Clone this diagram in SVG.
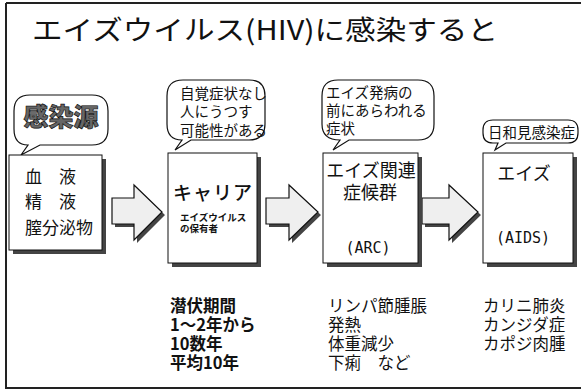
<svg xmlns="http://www.w3.org/2000/svg" width="581" height="391" viewBox="0 0 581 391">
<style>
.jp{font-family:"Noto Sans CJK JP","Noto Sans CJK SC",sans-serif;fill:#111}
.mono{font-family:"DejaVu Sans Mono","Liberation Mono",monospace;fill:#111}
.box{fill:#fff;stroke:#111;stroke-width:1}
.shadow{fill:#444}
.bub{fill:#fff;stroke:#111;stroke-width:1.2}
.arrow{fill:#efefef;stroke:#111;stroke-width:1.2}
</style>
<rect width="581" height="391" fill="#fff"/>
<g id="frame" stroke="#222" stroke-width="2" fill="none">
<line x1="6" y1="3" x2="581" y2="3"/>
<line x1="6" y1="3" x2="6" y2="389"/>
<line x1="6" y1="388" x2="581" y2="388"/>
</g>
<text id="title" class="jp" x="32" y="40" font-size="27" textLength="466" lengthAdjust="spacingAndGlyphs">エイズウイルス(HIV)に感染すると</text>

<g id="connectors">
<g id="arrow1">
<path class="shadow" transform="translate(3,3)" d="M112,198 H134 V185 L162,212 L134,240 V224 H112 Z"/>
<path class="arrow" d="M112,198 H134 V185 L162,212 L134,240 V224 H112 Z"/>
</g>
<g id="arrow2">
<path class="shadow" transform="translate(3,3)" d="M266,198 H289 V185 L318,212 L289,240 V224 H266 Z"/>
<path class="arrow" d="M266,198 H289 V185 L318,212 L289,240 V224 H266 Z"/>
</g>
<g id="arrow3">
<path class="shadow" transform="translate(3,3)" d="M422,198 H449 V185 L478,212 L449,240 V224 H422 Z"/>
<path class="arrow" d="M422,198 H449 V185 L478,212 L449,240 V224 H422 Z"/>
</g>
</g>

<g id="source">
<path class="bub" d="M30,95 H92 Q108,95 108,111 V129 Q108,145 92,145 H40 L21,155 L28,145 Q14,145 14,129 V111 Q14,95 30,95 Z"/>
<text class="jp" x="61" y="126" font-size="25" font-weight="900" text-anchor="middle" style="fill:#666;stroke:#111;stroke-width:0.7">感染源</text>
<rect class="shadow" x="13" y="159" width="93" height="95"/>
<rect class="box" x="9" y="155" width="93" height="95"/>
<text class="jp" x="25" y="183" font-size="17">血　液</text>
<text class="jp" x="25" y="208" font-size="17">精　液</text>
<text class="jp" x="25" y="234" font-size="17">膣分泌物</text>
</g>

<g id="carrier">
<path class="bub" d="M183,80 H249 Q265,80 265,96 V124 Q265,140 249,140 H191 L175,150 L182,140 Q167,140 167,124 V96 Q167,80 183,80 Z"/>
<text class="jp" x="180" y="98.5" font-size="14.5">自覚症状なし</text>
<text class="jp" x="180" y="117" font-size="14.5">人にうつす</text>
<text class="jp" x="180" y="135.5" font-size="14.5">可能性がある</text>
<rect class="shadow" x="172" y="157" width="89" height="110"/>
<rect class="box" x="168" y="153" width="89" height="110"/>
<text class="jp" x="213" y="200" font-size="19" font-weight="500" text-anchor="middle" letter-spacing="1">キャリア</text>
<text class="jp" x="180" y="221" font-size="9.5" font-weight="bold">エイズウイルス</text>
<text class="jp" x="180" y="232" font-size="9.5" font-weight="bold">の保有者</text>
</g>

<g id="arc">
<path class="bub" d="M338,80 H418 Q434,80 434,96 V124 Q434,140 418,140 H349 L333,150 L340,140 Q322,140 322,124 V96 Q322,80 338,80 Z"/>
<text class="jp" x="326" y="98" font-size="14.5">エイズ発病の</text>
<text class="jp" x="326" y="116" font-size="14.5">前にあらわれる</text>
<text class="jp" x="326" y="134" font-size="14.5">症状</text>
<rect class="shadow" x="327" y="157" width="95" height="110"/>
<rect class="box" x="323" y="153" width="95" height="110"/>
<text class="jp" x="371" y="177" font-size="18" text-anchor="middle">エイズ関連</text>
<text class="jp" x="370" y="199" font-size="18" text-anchor="middle">症候群</text>
<text class="mono" x="368" y="253" font-size="15" text-anchor="middle">(ARC)</text>
</g>

<g id="aids">
<path class="bub" d="M493,120 H568 Q578,120 578,130 V133 Q578,143 568,143 H506 L495,150 L498,143 H493 Q483,143 483,133 V130 Q483,120 493,120 Z"/>
<text class="jp" x="488" y="137.5" font-size="14.5">日和見感染症</text>
<rect class="shadow" x="487" y="157" width="90" height="110"/>
<rect class="box" x="483" y="153" width="90" height="110"/>
<text class="jp" x="524" y="180" font-size="18" text-anchor="middle">エイズ</text>
<text class="mono" x="523" y="243" font-size="15" text-anchor="middle">(AIDS)</text>
</g>

<g id="notes">
<g class="jp" font-size="16.5" font-weight="bold">
<text x="170" y="312">潜伏期間</text>
<text x="170" y="331">1～2年から</text>
<text x="170" y="350">10数年</text>
<text x="170" y="369">平均10年</text>
</g>
<g class="jp" font-size="16.5">
<text x="328" y="312">リンパ節腫脹</text>
<text x="328" y="331">発熱</text>
<text x="328" y="350">体重減少</text>
<text x="328" y="369">下痢　など</text>
</g>
<g class="jp" font-size="16.5">
<text x="483" y="312">カリニ肺炎</text>
<text x="483" y="331">カンジダ症</text>
<text x="483" y="350">カポジ肉腫</text>
</g>
</g>
</svg>
